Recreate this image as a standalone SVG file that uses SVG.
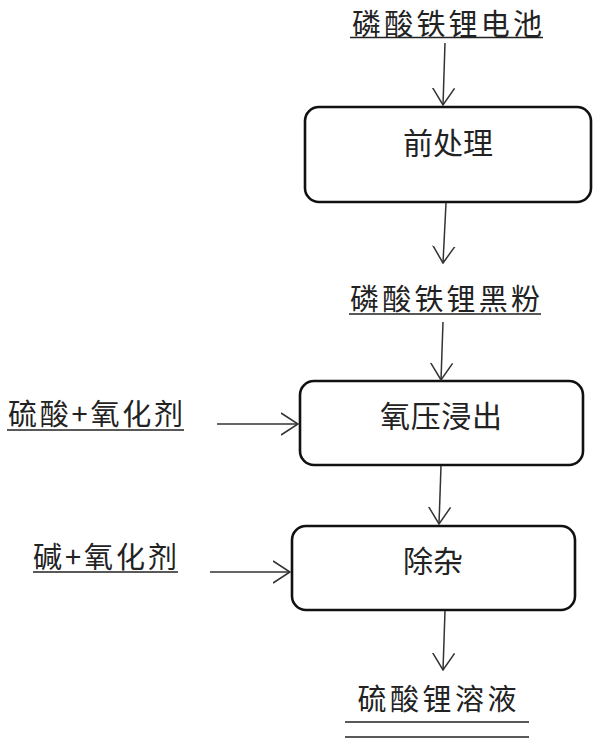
<svg xmlns="http://www.w3.org/2000/svg" width="600" height="750" viewBox="0 0 600 750">
<style>
  .bg{fill:#ffffff}
  .box{fill:#ffffff;stroke:#111;stroke-width:2.6}
  .t{font-family:"Noto Sans CJK SC","Noto Sans",sans-serif;fill:#222;text-anchor:middle;dominant-baseline:central}
  .lbl{font-size:29px}
  .bt{font-size:30px}
  .ul{stroke:#222;stroke-width:1.6}
  .arr{stroke:#333;stroke-width:1.5;fill:none;marker-end:url(#ah)}
</style>
<defs>
  <marker id="ah" markerUnits="userSpaceOnUse" markerWidth="18" markerHeight="24" refX="17" refY="11" orient="auto" viewBox="0 0 18 22">
    <path d="M0,0 L17,11 L0,22" fill="none" stroke="#333" stroke-width="1.5"/>
  </marker>
</defs>
<rect class="bg" x="0" y="0" width="600" height="750"/>

<g id="input-battery">
  <text class="t lbl" x="447" y="22" textLength="190" lengthAdjust="spacing">磷酸铁锂电池</text>
  <line class="ul" x1="350" y1="37.5" x2="543" y2="37.5"/>
</g>

<g id="pretreatment">
  <rect class="box" x="305" y="107" width="286" height="95" rx="14"/>
  <text class="t bt" x="448" y="141" textLength="90" lengthAdjust="spacing">前处理</text>
</g>

<g id="black-powder">
  <text class="t lbl" x="445" y="297" textLength="190" lengthAdjust="spacing">磷酸铁锂黑粉</text>
  <line class="ul" x1="349" y1="314" x2="541" y2="314"/>
</g>

<g id="oxygen-leaching">
  <rect class="box" x="300" y="381" width="283" height="84" rx="14"/>
  <text class="t bt" x="441" y="414" textLength="122" lengthAdjust="spacing">氧压浸出</text>
</g>

<g id="acid-oxidant">
  <text class="t lbl" x="95.5" y="412" textLength="175" lengthAdjust="spacing">硫酸+氧化剂</text>
  <line class="ul" x1="7" y1="430" x2="184" y2="430"/>
</g>

<g id="impurity-removal">
  <rect class="box" x="292" y="526" width="283" height="84" rx="14"/>
  <text class="t bt" x="433" y="559" textLength="60" lengthAdjust="spacing">除杂</text>
</g>

<g id="base-oxidant">
  <text class="t lbl" x="105" y="555" textLength="144" lengthAdjust="spacing">碱+氧化剂</text>
  <line class="ul" x1="33" y1="572" x2="178" y2="572"/>
</g>

<g id="lithium-sulfate">
  <text class="t lbl" x="437" y="697" textLength="159" lengthAdjust="spacing">硫酸锂溶液</text>
  <line class="ul" x1="345" y1="722" x2="529" y2="722"/>
  <line class="ul" x1="345" y1="737" x2="529" y2="737"/>
</g>

<g id="connectors">
  <line class="arr" x1="445" y1="43" x2="443" y2="105"/>
  <line class="arr" x1="446" y1="203" x2="443" y2="263"/>
  <line class="arr" x1="443" y1="322" x2="441" y2="380"/>
  <line class="arr" x1="217" y1="424" x2="298" y2="424"/>
  <line class="arr" x1="441" y1="466" x2="439" y2="524"/>
  <line class="arr" x1="210" y1="572" x2="290" y2="572"/>
  <line class="arr" x1="445" y1="611" x2="443" y2="670"/>
</g>
</svg>
